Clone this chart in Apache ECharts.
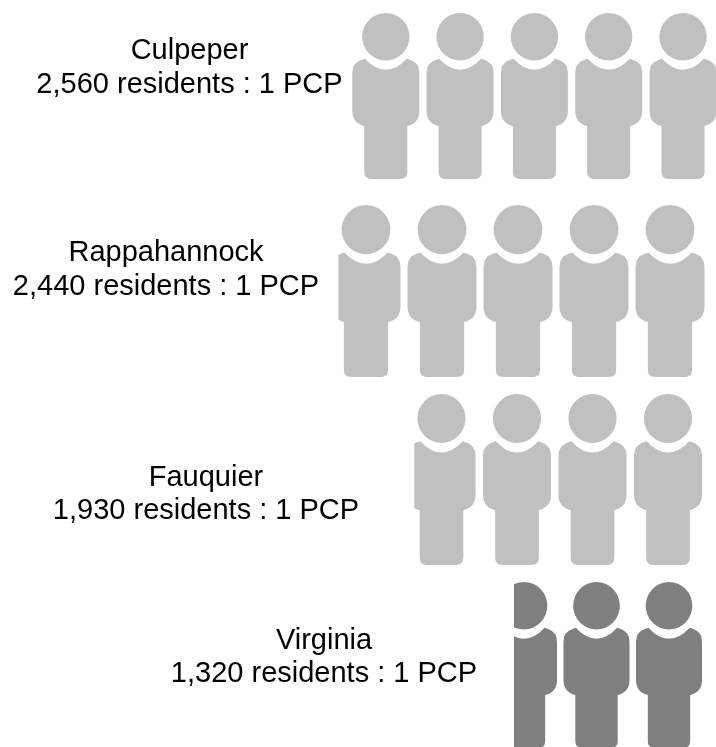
<!DOCTYPE html>
<html>
<head>
<meta charset="utf-8">
<style>
  html, body { margin: 0; padding: 0; background: #fff; }
  #main { width: 716px; height: 747px; }
</style>
<script src="https://cdn.jsdelivr.net/npm/echarts@6/dist/echarts.min.js"></script>
</head>
<body>
<div id="main"></div>
<script>
// values
var counties = ['Culpeper', 'Rappahannock', 'Fauquier', 'Virginia'];
var residents = [2560, 2440, 1930, 1320];
var icons = [5, 4.9, 3.9, 2.65];

// where each row sits, all in page pixels
var rowStyles = [
  { right: 683, pitch: 74.3, top: 13, w: 67, h: 166, textX: 189.5, line1: 50.5, line2: 85, color: '#c0c0c0' },
  { right: 670, pitch: 76, top: 205, w: 69, h: 172, textX: 166, line1: 252.5, line2: 286.5, color: '#c0c0c0' },
  { right: 668, pitch: 75.5, top: 394, w: 68, h: 171, textX: 206, line1: 477.5, line2: 510.5, color: '#c0c0c0' },
  { right: 669, pitch: 72.5, top: 582, w: 66, h: 166, textX: 324, line1: 640.5, line2: 673.5, color: '#7f7f7f' }
];

var personPath =
  'M-23.7 24A23.7 23.7 0 1 1 23.7 24A23.7 23.7 0 1 1 -23.7 24Z' +
  'M-21 46Q0 68 21 46L24 47Q33.5 50 33.5 60L33.5 98Q33.5 110 21.5 113L21.5 159Q21.5 166 14.5 166' +
  'L-14.5 166Q-21.5 166 -21.5 159L-21.5 113Q-33.5 110 -33.5 98L-33.5 60Q-33.5 50 -24 47Z';

var fontFamily = '"Liberation Sans", Arial, sans-serif';

function renderRow(params, api) {
  var row = api.value(0);
  var count = api.value(1);
  var st = rowStyles[row];
  var children = [];
  var n = Math.ceil(count);

  for (var i = 0; i < n; i++) {
    var cx = st.right - i * st.pitch;
    var pos = api.coord([cx - st.w / 2, st.top]);
    var size = api.size([st.w, st.h]);
    var el = {
      type: 'path',
      shape: { pathData: personPath, x: pos[0], y: pos[1], width: size[0], height: size[1], layout: 'cover' },
      style: { fill: st.color }
    };
    // the last person is only partly drawn
    var part = count - i;
    if (part < 1) {
      var cut = pos[0] + size[0] * (1 - part);
      el.clipPath = { type: 'rect', shape: { x: cut, y: pos[1] - 5, width: size[0], height: size[1] + 10 } };
    }
    children.push(el);
  }

  var l1 = api.coord([st.textX, st.line1]);
  var l2 = api.coord([st.textX, st.line2]);
  var labelStyle = { fill: '#000', font: '29px ' + fontFamily, textAlign: 'center', textVerticalAlign: 'middle' };
  children.push({
    type: 'text', x: l1[0], y: l1[1],
    style: Object.assign({ text: counties[row] }, labelStyle)
  });
  children.push({
    type: 'text', x: l2[0], y: l2[1],
    style: Object.assign({ text: residents[row].toLocaleString('en-US') + ' residents : 1 PCP' }, labelStyle)
  });

  return { type: 'group', children: children };
}

var chart = echarts.init(document.getElementById('main'));
chart.setOption({
  backgroundColor: '#fff',
  animation: false,
  grid: { left: 0, right: 0, top: 0, bottom: 0 },
  xAxis: { type: 'value', min: 0, max: 716, show: false },
  yAxis: { type: 'value', min: 0, max: 747, inverse: true, show: false },
  series: [{
    type: 'custom',
    clip: false,
    renderItem: renderRow,
    encode: { x: 1, y: 1 },
    data: counties.map(function (c, i) { return [i, icons[i]]; })
  }]
});
</script>
</body>
</html>
